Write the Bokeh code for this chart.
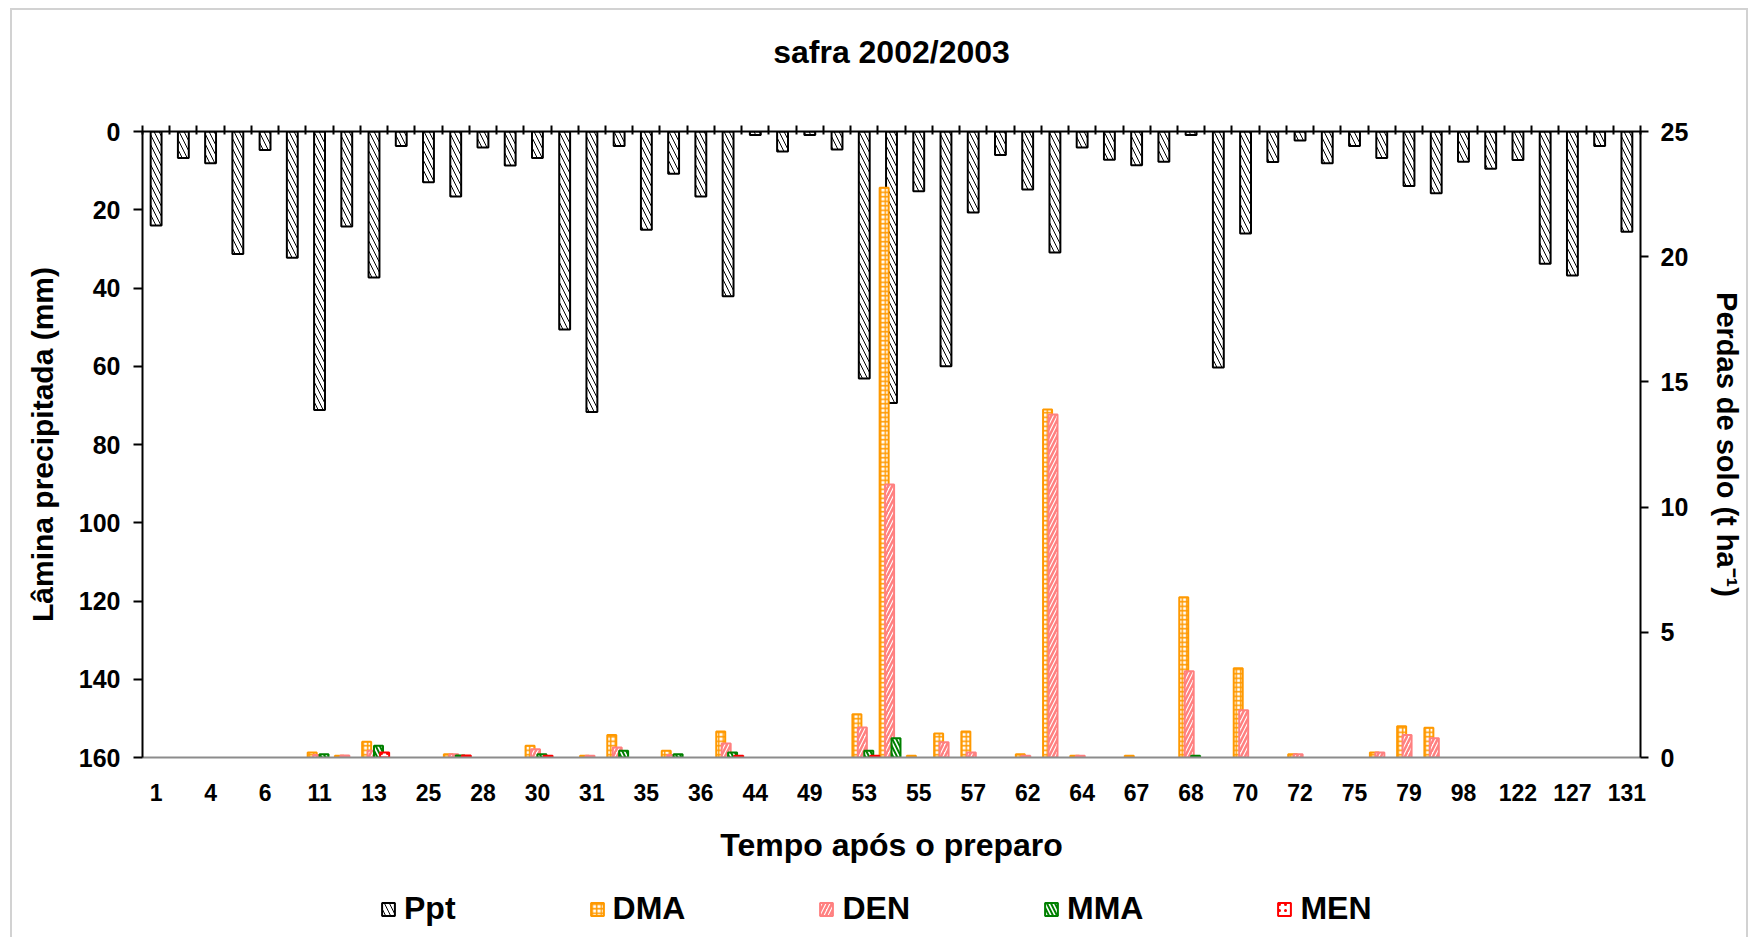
from bokeh.plotting import figure
from bokeh.layouts import column
from bokeh.models import (Range1d, LinearAxis, FixedTicker, ColumnDataSource,
                          Legend, LegendItem, InlineStyleSheet)
from bokeh.transform import dodge
from bokeh.embed import file_html
from bokeh.resources import INLINE

# ---------------- data ----------------
tick_labels = ["1", "4", "6", "11", "13", "25", "28", "30", "31", "35", "36", "44",
               "49", "53", "55", "57", "62", "64", "67", "68", "70", "72", "75",
               "79", "98", "122", "127", "131"]

# precipitation (mm), one value per rain event (55 events)
ppt = [24.0, 6.8, 8.1, 31.3, 4.7, 32.3, 71.2, 24.3, 37.3, 3.7,
       13.0, 16.6, 4.1, 8.7, 6.8, 50.6, 71.7, 3.7, 25.1, 10.8,
       16.6, 42.1, 0.9, 5.1, 0.9, 4.6, 63.1, 69.4, 15.3, 60.0,
       20.7, 6.0, 14.8, 30.9, 4.1, 7.2, 8.6, 7.7, 0.9, 60.3,
       26.1, 7.8, 2.3, 8.1, 3.7, 6.8, 13.9, 15.8, 7.7, 9.5,
       7.3, 33.8, 36.8, 3.7, 25.6]

# soil losses (t/ha)
dma = [0, 0, 0, 0, 0, 0, 0.20, 0.07, 0.63, 0,
       0, 0.13, 0, 0, 0.47, 0, 0.07, 0.90, 0, 0.27,
       0, 1.04, 0, 0, 0, 0, 1.73, 22.75, 0.07, 0.96,
       1.04, 0, 0.13, 13.9, 0.07, 0, 0.07, 0, 6.4, 0,
       3.56, 0, 0.13, 0, 0, 0.20, 1.25, 1.19, 0, 0,
       0, 0, 0, 0, 0]
den = [0, 0, 0, 0, 0, 0, 0.10, 0.08, 0.27, 0,
       0, 0.13, 0, 0, 0.33, 0, 0.07, 0.40, 0, 0.10,
       0, 0.56, 0, 0, 0, 0, 1.20, 10.9, 0, 0.61,
       0.20, 0, 0.07, 13.7, 0.07, 0, 0, 0, 3.44, 0,
       1.89, 0, 0.13, 0, 0, 0.20, 0.90, 0.77, 0, 0,
       0, 0, 0, 0, 0]
mma = [0, 0, 0, 0, 0, 0, 0.13, 0, 0.47, 0,
       0, 0.08, 0, 0, 0.13, 0, 0, 0.27, 0, 0.13,
       0, 0.20, 0, 0, 0, 0, 0.27, 0.77, 0, 0,
       0, 0, 0, 0, 0, 0, 0, 0, 0.07, 0,
       0, 0, 0, 0, 0, 0, 0, 0, 0, 0,
       0, 0, 0, 0, 0]
men = [0, 0, 0, 0, 0, 0, 0, 0, 0.20, 0,
       0, 0.08, 0, 0, 0.07, 0, 0, 0, 0, 0,
       0, 0.07, 0, 0, 0, 0, 0.07, 0, 0, 0,
       0, 0, 0, 0, 0, 0, 0, 0, 0, 0,
       0, 0, 0, 0, 0, 0, 0, 0, 0, 0,
       0, 0, 0, 0, 0]

n = len(ppt)
FONT = "Liberation Sans"
W = 1755
H_MAIN = 890
H_LEG = 47

p = figure(width=W, height=H_MAIN, output_backend="svg", toolbar_location=None,
           x_range=Range1d(-0.5, n - 0.5), y_range=Range1d(160, 0),
           min_border_left=142, min_border_right=115, min_border_top=131,
           min_border_bottom=133)
p.extra_y_ranges = {"sec": Range1d(0, 25)}
p.outline_line_color = None
p.xgrid.grid_line_color = None
p.ygrid.grid_line_color = None
p.background_fill_color = None
p.border_fill_color = None

ppt_style = dict(fill_color="white", line_color="black", line_width=2,
                 hatch_pattern="\\", hatch_color="black", hatch_scale=10,
                 hatch_weight=1)
# (name, values, colour, hatch, hatch scale, hatch weight, offset in category)
specs = [
    ("DMA", dma, "#FF9900", "+", 4.5, 1.5, -0.27),
    ("DEN", den, "#FF8080", "/", 8, 2.5, -0.07),
    ("MMA", mma, "#008000", "\\", 8, 2, 0.165),
    ("MEN", men, "#FF0000", ".", 6, 2, 0.39),
]

def series_source(vals):
    xs = [i for i, v in enumerate(vals) if v > 0]
    vs = [v for v in vals if v > 0]
    return ColumnDataSource(dict(x=xs, v=vs))

def series_style(col, hp, hs, hw):
    return dict(fill_color="white", line_color=col, line_width=2,
                hatch_pattern=hp, hatch_color=col, hatch_scale=hs, hatch_weight=hw)

# precipitation bars (primary axis, inverted)
src_ppt = ColumnDataSource(dict(x=list(range(n)), v=ppt))
p.vbar(x="x", top="v", bottom=0, width=0.40, source=src_ppt, **ppt_style)

sources = {}
for name, vals, col, hp, hs, hw, off in specs:
    sources[name] = series_source(vals)
    p.vbar(x=dodge("x", off, range=p.x_range), top="v", bottom=0,
           width=0.33, source=sources[name], y_range_name="sec",
           **series_style(col, hp, hs, hw))

def style_text(ax, lab_size, tick_size):
    ax.axis_label_text_font = FONT
    ax.axis_label_text_font_style = "bold"
    ax.axis_label_text_font_size = lab_size
    ax.axis_label_text_color = "black"
    ax.major_label_text_font = FONT
    ax.major_label_text_font_style = "bold"
    ax.major_label_text_font_size = tick_size
    ax.major_label_text_color = "black"

# left axis
ya = p.yaxis[0]
ya.ticker = FixedTicker(ticks=list(range(0, 161, 20)))
ya.axis_label = "Lâmina precipitada (mm)"
style_text(ya, "30px", "25px")
ya.axis_label_standoff = 17
ya.major_label_standoff = 13
ya.major_tick_out = 9
ya.major_tick_in = 0
ya.minor_tick_line_color = None
ya.axis_line_width = 2
ya.major_tick_line_width = 2

# right axis
yr = LinearAxis(y_range_name="sec", ticker=FixedTicker(ticks=list(range(0, 26, 5))))
yr.axis_label = "Perdas de solo (t ha⁻¹)"
style_text(yr, "29px", "25px")
yr.axis_label_standoff = 20
yr.major_label_standoff = 12
yr.major_tick_out = 8
yr.major_tick_in = 0
yr.minor_tick_line_color = None
yr.axis_line_width = 2
yr.major_tick_line_width = 2
p.add_layout(yr, "right")

# bottom category labels
xa = p.xaxis[0]
xa.ticker = FixedTicker(ticks=list(range(0, n, 2)))
xa.major_label_overrides = {i * 2: lab for i, lab in enumerate(tick_labels)}
xa.axis_label = "Tempo após o preparo"
style_text(xa, "32px", "23px")
xa.axis_label_standoff = 23
xa.major_label_standoff = 20
xa.major_tick_line_color = None
xa.minor_tick_line_color = None
xa.axis_line_color = "#8c8c8c"
xa.axis_line_width = 2

# top axis: category boundary ticks, chart title as its label
xt = LinearAxis(ticker=FixedTicker(ticks=[i - 0.5 for i in range(n + 1)]))
xt.major_label_text_color = None
xt.major_tick_out = 6
xt.major_tick_in = 3
xt.major_tick_line_width = 2
xt.minor_tick_line_color = None
xt.axis_line_width = 2
xt.axis_label = "safra 2002/2003"
xt.axis_label_text_font = FONT
xt.axis_label_text_font_style = "bold"
xt.axis_label_text_font_size = "32px"
xt.axis_label_text_color = "black"
xt.axis_label_standoff = 56
p.add_layout(xt, "above")

# ---------------- legend strip (same sources, renderers hidden) ----------------
pl = figure(width=W, height=H_LEG, output_backend="svg", toolbar_location=None,
            x_range=Range1d(-0.5, n - 0.5), y_range=Range1d(0, 1),
            x_axis_location=None, y_axis_location=None, min_border=0)
pl.outline_line_color = None
pl.grid.grid_line_color = None
pl.background_fill_color = None
pl.border_fill_color = None

r0 = pl.vbar(x="x", top="v", width=0.4, source=src_ppt, **ppt_style)
r0.visible = False
items = [LegendItem(label="Ppt", renderers=[r0])]
for name, vals, col, hp, hs, hw, off in specs:
    rr = pl.vbar(x="x", top="v", width=0.33, source=sources[name],
                 **series_style(col, hp, hs, hw))
    rr.visible = False
    items.append(LegendItem(label=name, renderers=[rr]))

legend = Legend(items=items, orientation="horizontal", location=(238, 10),
                glyph_width=16, glyph_height=16, label_standoff=8, spacing=133,
                padding=0, margin=0, border_line_color=None,
                background_fill_alpha=0, inactive_fill_alpha=0,
                label_text_font=FONT, label_text_font_style="bold",
                label_text_font_size="32px", label_text_color="black")
pl.add_layout(legend, "center")

# light grey chart-area frame, as in the original
frame_css = InlineStyleSheet(css="""
:host {
  background:
    linear-gradient(#d2d2d2, #d2d2d2) 10px 8px / 2px 929px no-repeat,
    linear-gradient(#d2d2d2, #d2d2d2) 10px 8px / 1738px 2px no-repeat,
    linear-gradient(#d2d2d2, #d2d2d2) 1746px 8px / 2px 929px no-repeat,
    #ffffff;
}
""")
layout = column(p, pl, spacing=0, stylesheets=[frame_css])
open("out.html", "w").write(file_html(layout, INLINE))
